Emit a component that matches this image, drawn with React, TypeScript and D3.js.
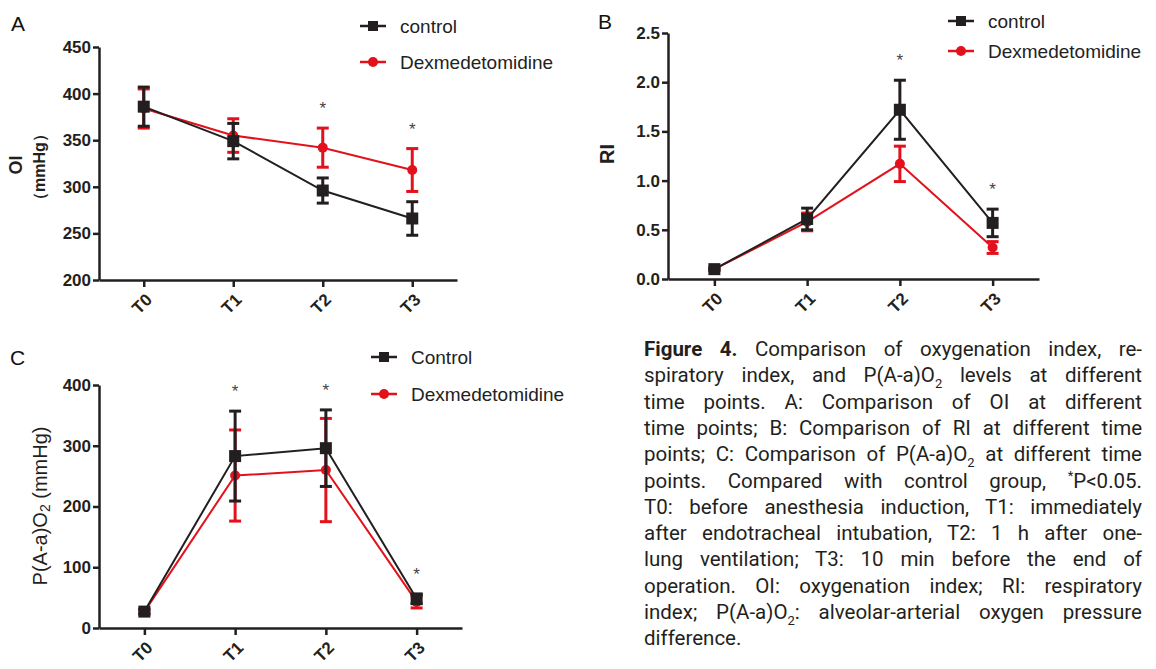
import React, { useEffect, useRef } from "react";
import * as d3 from "d3";

const timePoints = ["T0", "T1", "T2", "T3"];

// A: oxygenation index (mmHg), mean and SD
const oiControl = [386, 349, 296, 266];
const oiControlSd = [21, 19, 13.5, 18];
const oiDex = [384, 355, 342, 318];
const oiDexSd = [21, 18, 21, 23];
const oiSig = [false, false, true, true];
const oiTicks = [200, 250, 300, 350, 400, 450];

// B: respiratory index
const riControl = [0.1, 0.61, 1.72, 0.57];
const riControlSd = [0.012, 0.11, 0.3, 0.14];
const riDex = [0.1, 0.58, 1.17, 0.32];
const riDexSd = [0.01, 0.09, 0.18, 0.06];
const riSig = [false, false, true, true];
const riTicks = [0, 0.5, 1, 1.5, 2, 2.5];

// C: P(A-a)O2 (mmHg)
const paControl = [27, 283, 296, 48];
const paControlSd = [4, 74, 63, 8];
const paDex = [27, 251, 260, 43];
const paDexSd = [3, 75, 85, 10];
const paSig = [false, true, true, true];
const paTicks = [0, 100, 200, 300, 400];

const legendAB = ["control", "Dexmedetomidine"];
const legendC = ["Control", "Dexmedetomidine"];

// caption lines, [text, style] segments; style: b = bold, sub, sup
const captionLines: [string, string][][] = [
  [["Figure 4.", "b"], [" Comparison of oxygenation index, re-", ""]],
  [["spiratory index, and P(A-a)O", ""], ["2", "sub"], [" levels at different", ""]],
  [["time points. A: Comparison of OI at different", ""]],
  [["time points; B: Comparison of RI at different time", ""]],
  [["points; C: Comparison of P(A-a)O", ""], ["2", "sub"], [" at different time", ""]],
  [["points. Compared with control group, ", ""], ["*", "sup"], ["P<0.05.", ""]],
  [["T0: before anesthesia induction, T1: immediately", ""]],
  [["after endotracheal intubation, T2: 1 h after one-", ""]],
  [["lung ventilation; T3: 10 min before the end of", ""]],
  [["operation. OI: oxygenation index; RI: respiratory", ""]],
  [["index; P(A-a)O", ""], ["2", "sub"], [": alveolar-arterial oxygen pressure", ""]],
  [["difference.", ""]],
];

const BLACK = "#231f20";
const RED = "#e3111b";
const FONT = "'Liberation Sans', Arial, sans-serif";

type PanelCfg = {
  left: number;
  right: number;
  top: number;
  bottom: number;
  domain: [number, number];
  ticks: number[];
  fmt: (d: number) => string;
  control: number[];
  controlSd: number[];
  dex: number[];
  dexSd: number[];
  sig: boolean[];
  legend: string[];
  legendX: number;
  legendY: [number, number];
  letter: string;
  letterX: number;
  letterY: number;
  yLabel: (g: d3.Selection<SVGGElement, unknown, null, undefined>) => void;
};

function Panel({ cfg }: { cfg: PanelCfg }) {
  const ref = useRef<SVGGElement>(null);

  useEffect(() => {
    const g = d3.select(ref.current!);
    g.selectAll("*").remove();

    const x = d3.scalePoint<string>().domain(timePoints).range([cfg.left, cfg.right]).padding(0.5);
    const y = d3.scaleLinear().domain(cfg.domain).range([cfg.bottom, cfg.top]);

    // y axis
    const ya = g
      .append("g")
      .attr("transform", `translate(${cfg.left},0)`)
      .call(d3.axisLeft(y).tickValues(cfg.ticks).tickFormat(cfg.fmt as any).tickSize(6).tickSizeOuter(0).tickPadding(2));
    ya.selectAll("text").attr("font-size", 17).attr("font-weight", "bold").attr("fill", BLACK).attr("font-family", FONT);

    // x axis, labels turned 45 degrees
    const xa = g
      .append("g")
      .attr("transform", `translate(0,${cfg.bottom})`)
      .call(d3.axisBottom(x).tickSize(7).tickSizeOuter(0));
    xa.selectAll("text")
      .attr("font-size", 17)
      .attr("font-weight", "bold")
      .attr("fill", BLACK)
      .attr("font-family", FONT)
      .attr("text-anchor", "end")
      .attr("dy", null)
      .attr("y", null)
      .attr("dominant-baseline", "central")
      .attr("transform", "translate(5,17) rotate(-45)");

    g.selectAll(".domain, .tick line").attr("stroke", BLACK).attr("stroke-width", 2.5);
    g.attr("font-family", FONT);

    const series = [
      { vals: cfg.dex, sd: cfg.dexSd, color: RED, shape: "circle" },
      { vals: cfg.control, sd: cfg.controlSd, color: BLACK, shape: "square" },
    ];

    const line = d3
      .line<number>()
      .x((_, i) => x(timePoints[i])!)
      .y((d) => y(d));

    series.forEach((s) => {
      g.append("path").attr("d", line(s.vals)).attr("fill", "none").attr("stroke", s.color).attr("stroke-width", 2);

      s.vals.forEach((v, i) => {
        const cx = x(timePoints[i])!;
        const y0 = y(v - s.sd[i]);
        const y1 = y(v + s.sd[i]);
        const eb = g.append("g").attr("stroke", s.color).attr("stroke-width", 3);
        eb.append("line").attr("x1", cx).attr("x2", cx).attr("y1", y0).attr("y2", y1);
        [y0, y1].forEach((yy) =>
          eb.append("line").attr("x1", cx - 6).attr("x2", cx + 6).attr("y1", yy).attr("y2", yy)
        );
        if (s.shape === "circle") {
          g.append("circle").attr("cx", cx).attr("cy", y(v)).attr("r", 5).attr("fill", s.color);
        } else {
          g.append("rect").attr("x", cx - 6).attr("y", y(v) - 6).attr("width", 12).attr("height", 12).attr("fill", s.color);
        }
      });
    });

    // significance marks
    cfg.sig.forEach((on, i) => {
      if (!on) return;
      const top = Math.max(cfg.control[i] + cfg.controlSd[i], cfg.dex[i] + cfg.dexSd[i]);
      g.append("text")
        .attr("x", x(timePoints[i])!)
        .attr("y", y(top) - 14)
        .attr("text-anchor", "middle")
        .attr("font-size", 17)
        .attr("fill", "#444")
        .text("*");
    });

    // legend
    const leg = [
      { label: cfg.legend[0], color: BLACK, shape: "square", y: cfg.legendY[0] },
      { label: cfg.legend[1], color: RED, shape: "circle", y: cfg.legendY[1] },
    ];
    leg.forEach((l) => {
      const lx = cfg.legendX;
      g.append("line").attr("x1", lx).attr("x2", lx + 26).attr("y1", l.y).attr("y2", l.y).attr("stroke", l.color).attr("stroke-width", 2.5);
      if (l.shape === "circle") g.append("circle").attr("cx", lx + 13).attr("cy", l.y).attr("r", 5).attr("fill", l.color);
      else g.append("rect").attr("x", lx + 8).attr("y", l.y - 5).attr("width", 10).attr("height", 10).attr("fill", l.color);
      g.append("text")
        .attr("x", lx + 40)
        .attr("y", l.y)
        .attr("dominant-baseline", "central")
        .attr("font-size", 19)
        .attr("fill", "#222")
        .text(l.label);
    });

    g.append("text")
      .attr("x", cfg.letterX)
      .attr("y", cfg.letterY)
      .attr("dominant-baseline", "central")
      .attr("font-size", 21)
      .attr("fill", "#111")
      .text(cfg.letter);

    cfg.yLabel(g as any);
  }, [cfg]);

  return <g ref={ref} />;
}

const panelA: PanelCfg = {
  left: 99, right: 457, top: 47, bottom: 280,
  domain: [200, 450], ticks: oiTicks, fmt: (d) => String(d),
  control: oiControl, controlSd: oiControlSd, dex: oiDex, dexSd: oiDexSd, sig: oiSig,
  legend: legendAB, legendX: 360, legendY: [26, 62],
  letter: "A", letterX: 11, letterY: 23,
  yLabel: (g) => {
    g.append("text")
      .attr("transform", "translate(16,165) rotate(-90)")
      .attr("text-anchor", "middle").attr("dominant-baseline", "central")
      .attr("font-size", 18).attr("font-weight", "bold").attr("fill", BLACK)
      .text("OI");
    g.append("text")
      .attr("transform", "translate(39,167) rotate(-90)")
      .attr("text-anchor", "middle").attr("dominant-baseline", "central")
      .attr("font-size", 16).attr("font-weight", "bold").attr("fill", BLACK)
      .text("（mmHg）");
  },
};

const panelB: PanelCfg = {
  left: 668, right: 1039, top: 33, bottom: 279,
  domain: [0, 2.5], ticks: riTicks, fmt: d3.format(".1f"),
  control: riControl, controlSd: riControlSd, dex: riDex, dexSd: riDexSd, sig: riSig,
  legend: legendAB, legendX: 948, legendY: [21, 51],
  letter: "B", letterX: 598, letterY: 21,
  yLabel: (g) => {
    g.append("text")
      .attr("transform", "translate(607,154) rotate(-90)")
      .attr("text-anchor", "middle").attr("dominant-baseline", "central")
      .attr("font-size", 20).attr("font-weight", "bold").attr("fill", BLACK)
      .text("RI");
  },
};

const panelC: PanelCfg = {
  left: 99, right: 462, top: 385, bottom: 628,
  domain: [0, 400], ticks: paTicks, fmt: (d) => String(d),
  control: paControl, controlSd: paControlSd, dex: paDex, dexSd: paDexSd, sig: paSig,
  legend: legendC, legendX: 371, legendY: [357, 394],
  letter: "C", letterX: 10, letterY: 357,
  yLabel: (g) => {
    const t = g.append("text")
      .attr("transform", "translate(40,506) rotate(-90)")
      .attr("text-anchor", "middle").attr("dominant-baseline", "central")
      .attr("font-size", 20).attr("fill", BLACK);
    t.append("tspan").text("P(A-a)O");
    t.append("tspan").attr("font-size", 14).attr("dy", 5).text("2");
    t.append("tspan").attr("dy", -5).text(" (mmHg)");
  },
};

function Caption() {
  const ref = useRef<SVGGElement>(null);
  const left = 644;
  const width = 498;

  useEffect(() => {
    const g = d3.select(ref.current!);
    g.selectAll("*").remove();
    captionLines.forEach((segs, i) => {
      const t = g
        .append("text")
        .attr("x", left)
        .attr("y", 356 + i * 26.3)
        .attr("font-size", 20.5)
        .attr("fill", "#231f20");
      let shift = 0;
      segs.forEach(([txt, st]) => {
        const sp = t.append("tspan").text(txt);
        if (st === "b") sp.attr("font-weight", "bold");
        const want = st === "sub" ? 6 : st === "sup" ? -8 : 0;
        if (want !== shift) sp.attr("dy", want - shift);
        shift = want;
        if (st === "sub" || st === "sup") sp.attr("font-size", 13);
      });
      if (i === captionLines.length - 1) return;
      // justify each line to the column width
      const node = t.node()!;
      const len = node.getComputedTextLength();
      const full = segs.map((s) => s[0]).join("");
      const spaces = (full.match(/ /g) || []).length;
      if (len < width && spaces > 0) {
        t.attr("word-spacing", (width - len) / spaces);
      } else if (len > width) {
        t.attr("textLength", width).attr("lengthAdjust", "spacingAndGlyphs");
      }
    });
  }, []);

  return <g ref={ref} fontFamily="Roboto, 'Liberation Sans', sans-serif" />;
}

export default function App() {
  return (
    <svg
      width={1156}
      height={669}
      style={{ position: "absolute", left: 0, top: 0, background: "#fff" }}
    >
      <Panel cfg={panelA} />
      <Panel cfg={panelB} />
      <Panel cfg={panelC} />
      <Caption />
    </svg>
  );
}
